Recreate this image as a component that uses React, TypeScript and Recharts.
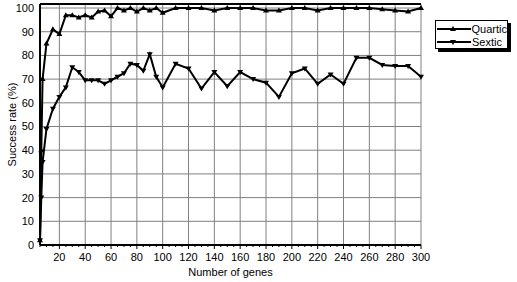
import React from "react";
import {
  LineChart,
  Line,
  XAxis,
  YAxis,
  CartesianGrid,
  ReferenceLine,
} from "recharts";

// x positions (number of genes) and success rates
const genes = [
  5, 6, 7, 10, 15, 20, 25, 30, 35, 40, 45, 50, 55, 60, 65, 70, 75, 80, 85, 90, 95, 100,
  110, 120, 130, 140, 150, 160, 170, 180, 190, 200, 210, 220, 230, 240, 250, 260, 270,
  280, 290, 300,
];
const quartic = [
  2, 40, 70, 85, 91, 89, 97, 97, 96, 97, 96, 98.5, 99, 96.5, 100, 99, 100, 98.5, 100, 99,
  100, 98, 100, 100, 100, 99, 100, 100, 100, 99, 99, 100, 100, 99, 100, 100, 100, 100,
  99.5, 99, 98.5, 100,
];
const sextic = [
  2, 20, 35, 49, 57.5, 62.5, 66.5, 75, 73, 69.5, 69.5, 69.5, 68, 69.5, 71, 72.5, 76.5,
  76, 73.5, 80.5, 71, 66.5, 76.5, 74.5, 66, 73, 67, 73, 70, 68.5, 62.5, 72.5, 74.5, 68,
  72, 68, 79, 79, 76, 75.5, 75.5, 71,
];

const xMajor = [20, 40, 60, 80, 100, 120, 140, 160, 180, 200, 220, 240, 260, 280, 300];
const xMinor = [
  5, 10, 15, 20, 25, 30, 35, 40, 45, 50, 55, 60, 65, 70, 75, 80, 85, 90, 95, 100, 105, 110,
  115, 120, 125, 130, 135, 140, 145, 150, 155, 160, 165, 170, 175, 180, 185, 190, 195, 200,
  205, 210, 215, 220, 225, 230, 235, 240, 245, 250, 255, 260, 265, 270, 275, 280, 285, 290,
  295, 300,
];
const yTicks = [0, 10, 20, 30, 40, 50, 60, 70, 80, 90, 100];
const Y_TOP = 101.7;

const data = genes.map((g, i) => ({ genes: g, Quartic: quartic[i], Sextic: sextic[i] }));

const FONT = "'Liberation Sans', Arial, sans-serif";

function UpDot(props: any) {
  const { cx, cy } = props;
  if (cx == null || cy == null) return null;
  return <path d={`M${cx},${cy - 3} L${cx + 3},${cy + 2} L${cx - 3},${cy + 2} Z`} fill="#000" />;
}

function DownDot(props: any) {
  const { cx, cy } = props;
  if (cx == null || cy == null) return null;
  return <path d={`M${cx},${cy + 3} L${cx + 3},${cy - 2} L${cx - 3},${cy - 2} Z`} fill="#000" />;
}

function XTick(props: any) {
  const { x, y, payload } = props;
  const major = payload.value % 20 === 0;
  return (
    <g>
      <line x1={x} x2={x} y1={y} y2={y + (major ? 4 : 2)} stroke="#000" />
      {major && (
        <text x={x} y={y + 16} textAnchor="middle" fontSize={11} fontFamily={FONT} fill="#000">
          {payload.value}
        </text>
      )}
    </g>
  );
}

function LegendBox() {
  const rows = [
    { name: "Quartic", up: true },
    { name: "Sextic", up: false },
  ];
  return (
    <div
      style={{
        position: "absolute",
        left: 435,
        top: 20,
        width: 73,
        height: 29,
        border: "1px solid #000",
        boxShadow: "3px 3px 0 #000",
        background: "#fff",
        fontFamily: FONT,
        fontSize: 11,
        paddingTop: 1,
        boxSizing: "border-box",
      }}
    >
      {rows.map((r) => (
        <div key={r.name} style={{ display: "flex", alignItems: "center", height: 13 }}>
          <svg width={36} height={13}>
            <line x1={1} x2={35} y1={7} y2={7} stroke="#000" strokeWidth={2} />
            {r.up ? <UpDot cx={17} cy={7} /> : <DownDot cx={17} cy={7} />}
          </svg>
          <span style={{ color: "#000" }}>{r.name}</span>
        </div>
      ))}
    </div>
  );
}

export default function App() {
  return (
    <div style={{ position: "relative", width: 517, height: 282, background: "#fff" }}>
      <style>{`body{margin:0;background:#fff}`}</style>
      <LineChart
        width={517}
        height={282}
        data={data}
        margin={{ top: 4, right: 96, left: 0, bottom: 0 }}
      >
        <CartesianGrid
          stroke="#808080"
          verticalValues={xMajor}
          horizontalValues={yTicks}
        />
        <XAxis
          dataKey="genes"
          type="number"
          domain={[5, 300]}
          ticks={xMinor}
          interval={0}
          height={37}
          tickLine={false}
          tickSize={0}
          tickMargin={0}
          axisLine={{ stroke: "#000", strokeWidth: 2 }}
          tick={<XTick />}
          label={{
            value: "Number of genes",
            position: "insideBottom",
            offset: 6,
            fontSize: 11,
            fontFamily: FONT,
            fill: "#000",
          }}
        />
        <YAxis
          type="number"
          domain={[0, Y_TOP]}
          ticks={yTicks}
          interval={0}
          width={40}
          tickLine={false}
          tickSize={0}
          tickMargin={6}
          axisLine={{ stroke: "#000", strokeWidth: 2 }}
          tick={{ fontSize: 11, fontFamily: FONT, fill: "#000" }}
          label={{
            value: "Success rate (%)",
            angle: -90,
            position: "insideLeft",
            offset: 12,
            style: { textAnchor: "middle" },
            fontSize: 11,
            fontFamily: FONT,
            fill: "#000",
          }}
        />
        <ReferenceLine y={Y_TOP} stroke="#000" strokeWidth={2} />
        <Line
          dataKey="Quartic"
          stroke="#000"
          strokeWidth={2}
          dot={<UpDot />}
          activeDot={false}
          isAnimationActive={false}
        />
        <Line
          dataKey="Sextic"
          stroke="#000"
          strokeWidth={2}
          dot={<DownDot />}
          activeDot={false}
          isAnimationActive={false}
        />
      </LineChart>
      <LegendBox />
    </div>
  );
}
